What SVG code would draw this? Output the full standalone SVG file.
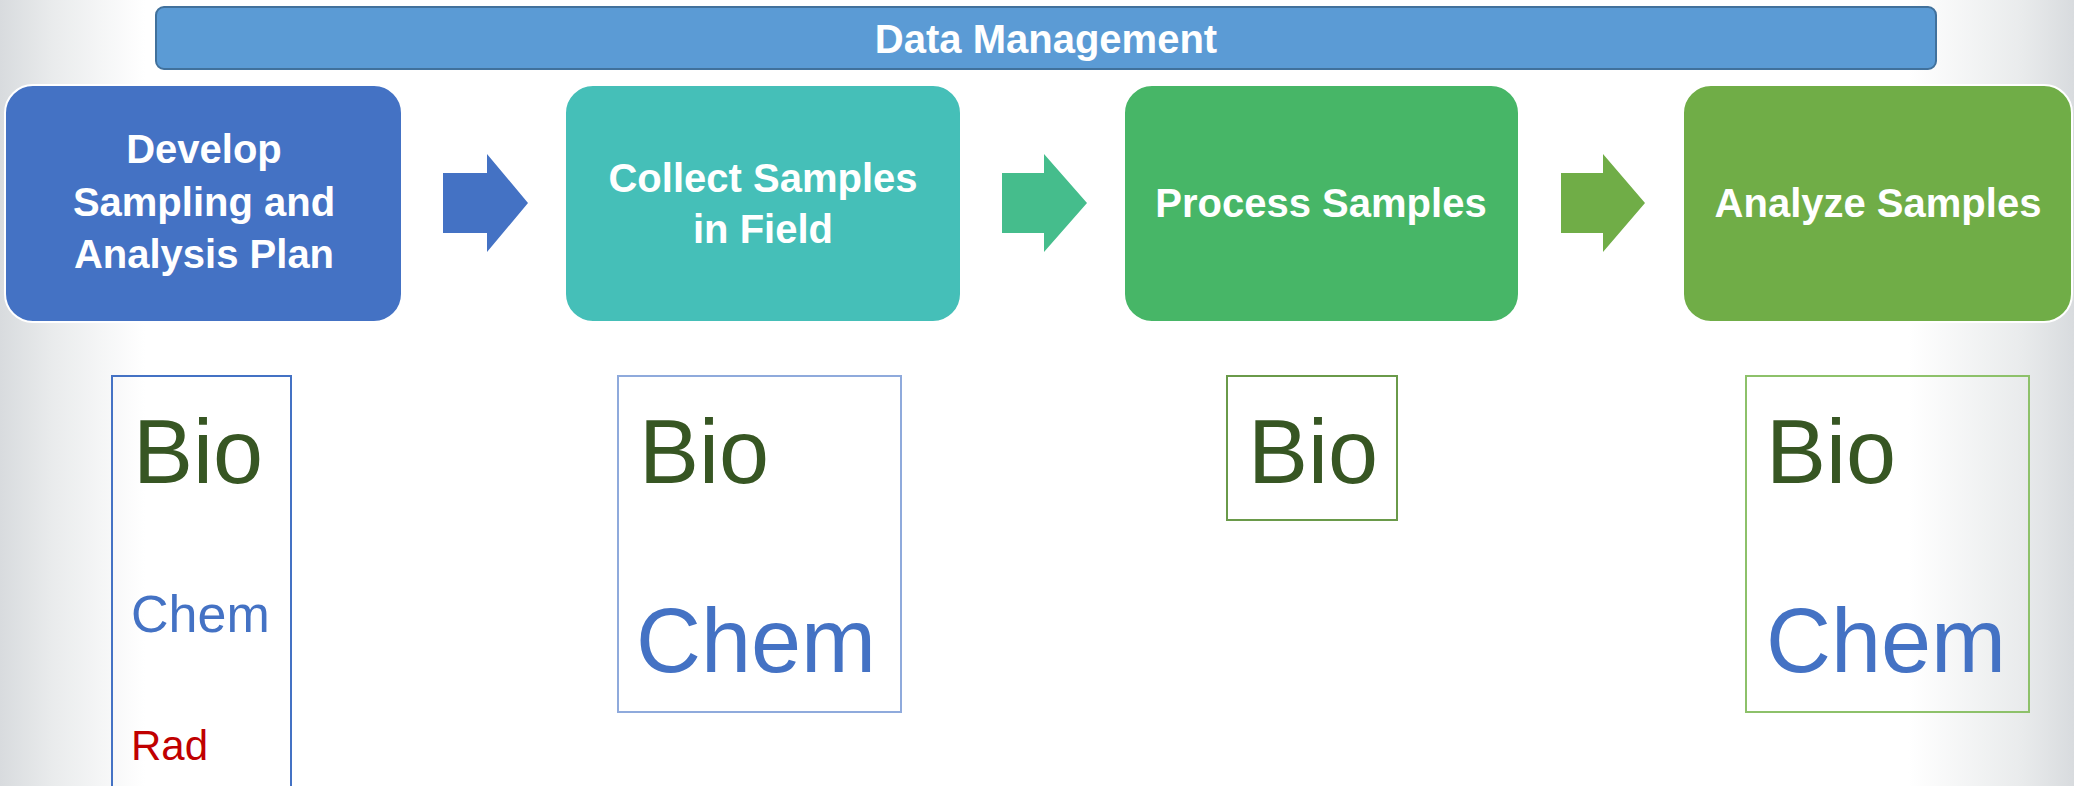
<svg xmlns="http://www.w3.org/2000/svg" width="2074" height="786" viewBox="0 0 2074 786">
<defs>
<linearGradient id="bg" x1="0" y1="0" x2="1" y2="0">
<stop offset="0" stop-color="#d8dbde"/>
<stop offset="0.025" stop-color="#e9ebec"/>
<stop offset="0.07" stop-color="#ffffff"/>
<stop offset="0.92" stop-color="#ffffff"/>
<stop offset="0.975" stop-color="#e9ebec"/>
<stop offset="1" stop-color="#d8dbde"/>
</linearGradient>
<style>
.step{stroke:#ffffff;stroke-width:2}
.lbl{font-family:"Liberation Sans",Arial,sans-serif;font-weight:bold;font-size:40px;fill:#ffffff;text-anchor:middle}
.big{font-family:"Liberation Sans",Arial,sans-serif;font-size:90px}
.bio{fill:#375623}
.chem{fill:#4472c4}
.rad{fill:#c00000}
.list{fill:none;stroke-width:2}
</style>
</defs>
<rect x="0" y="0" width="2074" height="786" fill="url(#bg)"/>
<g id="data-management">
<rect x="156" y="7" width="1780" height="62" rx="8" fill="#5b9bd5" stroke="#41719c" stroke-width="2"/>
<text class="lbl" x="1046" y="53">Data Management</text>
</g>
<g id="step-plan">
<rect class="step" x="5" y="85" width="397" height="237" rx="28" fill="#4472c4"/>
<text class="lbl" x="204" y="163">Develop</text>
<text class="lbl" x="204" y="216">Sampling and</text>
<text class="lbl" x="204" y="268">Analysis Plan</text>
</g>
<g id="step-collect">
<rect class="step" x="565" y="85" width="396" height="237" rx="28" fill="#45bfb8"/>
<text class="lbl" x="763" y="192">Collect Samples</text>
<text class="lbl" x="763" y="243">in Field</text>
</g>
<g id="step-process">
<rect class="step" x="1124" y="85" width="395" height="237" rx="28" fill="#47b667"/>
<text class="lbl" x="1321" y="217">Process Samples</text>
</g>
<g id="step-analyze">
<rect class="step" x="1683" y="85" width="389" height="237" rx="28" fill="#70ad47"/>
<text class="lbl" x="1878" y="217">Analyze Samples</text>
</g>
<g id="connectors">
<polygon points="443,173 487,173 487,154 528,203 487,252 487,233 443,233" fill="#4472c4"/>
<polygon points="1002,173 1044,173 1044,154 1087,203 1044,252 1044,233 1002,233" fill="#45bd8c"/>
<polygon points="1561,173 1603,173 1603,154 1645,203 1603,252 1603,233 1561,233" fill="#70ad47"/>
</g>
<g id="list-plan">
<rect class="list" x="112" y="376" width="179" height="420" stroke="#4472c4"/>
<text class="big bio" x="133" y="483">Bio</text>
<text class="chem" x="131" y="632" font-family="Liberation Sans, Arial, sans-serif" font-size="52">Chem</text>
<text class="rad" x="131" y="760" font-family="Liberation Sans, Arial, sans-serif" font-size="42">Rad</text>
</g>
<g id="list-collect">
<rect class="list" x="618" y="376" width="283" height="336" stroke="#8faadc"/>
<text class="big bio" x="639" y="483">Bio</text>
<text class="big chem" x="636" y="672">Chem</text>
</g>
<g id="list-process">
<rect class="list" x="1227" y="376" width="170" height="144" stroke="#6a9a4a"/>
<text class="big bio" x="1248" y="483">Bio</text>
</g>
<g id="list-analyze">
<rect class="list" x="1746" y="376" width="283" height="336" stroke="#8dc16a"/>
<text class="big bio" x="1766" y="483">Bio</text>
<text class="big chem" x="1766" y="672">Chem</text>
</g>
</svg>
